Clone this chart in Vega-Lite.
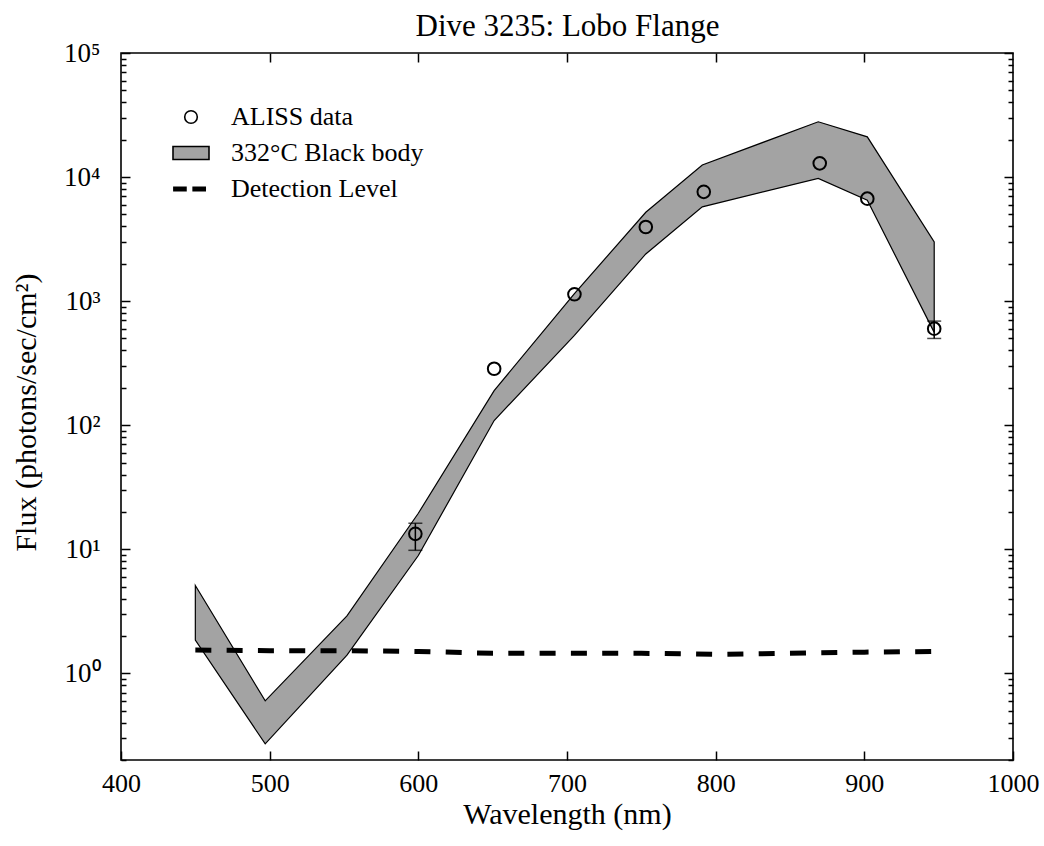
{
  "$schema": "https://vega.github.io/schema/vega-lite/v6.json",
  "width": 892,
  "height": 707,
  "autosize": {"type": "none"},
  "padding": {"left": 121, "top": 53, "right": 31, "bottom": 86},
  "background": "white",
  "config": {
    "view": {"stroke": "black", "strokeWidth": 1.6},
    "font": "Liberation Serif",
    "axis": {"domain": false, "grid": false, "tickColor": "black", "tickWidth": 1.5, "labelColor": "black", "titleColor": "black", "labelFont": "Liberation Serif", "titleFont": "Liberation Serif", "titleFontWeight": "normal", "labelOverlap": false, "labelBound": false, "labelFlush": false},
    "legend": {"labelFont": "Liberation Serif"}
  },
  "datasets": {
    "band": [
      {"wavelength": 450, "upper": 5.1, "lower": 1.85},
      {"wavelength": 497, "upper": 0.6, "lower": 0.27},
      {"wavelength": 552, "upper": 2.9, "lower": 1.4},
      {"wavelength": 600, "upper": 19.5, "lower": 8.9},
      {"wavelength": 651, "upper": 190, "lower": 109},
      {"wavelength": 705, "upper": 1150, "lower": 530},
      {"wavelength": 753, "upper": 5200, "lower": 2400},
      {"wavelength": 791, "upper": 12500, "lower": 5750},
      {"wavelength": 869, "upper": 27900, "lower": 9750},
      {"wavelength": 902, "upper": 21100, "lower": 6500},
      {"wavelength": 947, "upper": 3000, "lower": 560}
    ],
    "detect": [
      {"wavelength": 450, "level": 1.54},
      {"wavelength": 500, "level": 1.52},
      {"wavelength": 550, "level": 1.52},
      {"wavelength": 600, "level": 1.5},
      {"wavelength": 650, "level": 1.45},
      {"wavelength": 700, "level": 1.45},
      {"wavelength": 750, "level": 1.45},
      {"wavelength": 800, "level": 1.42},
      {"wavelength": 850, "level": 1.45},
      {"wavelength": 900, "level": 1.48},
      {"wavelength": 948, "level": 1.5}
    ],
    "aliss": [
      {"wavelength": 598, "flux": 13.3, "series": "ALISS data"},
      {"wavelength": 651, "flux": 285, "series": "ALISS data"},
      {"wavelength": 705, "flux": 1135, "series": "ALISS data"},
      {"wavelength": 753, "flux": 3960, "series": "ALISS data"},
      {"wavelength": 792, "flux": 7600, "series": "ALISS data"},
      {"wavelength": 870, "flux": 12900, "series": "ALISS data"},
      {"wavelength": 902, "flux": 6700, "series": "ALISS data"},
      {"wavelength": 947, "flux": 600, "series": "ALISS data"}
    ],
    "err": [
      {"wavelength": 598, "lo": 9.8, "hi": 16.2},
      {"wavelength": 947, "lo": 500, "hi": 690}
    ]
  },
  "resolve": {"axis": {"x": "independent", "y": "independent"}},
  "layer": [
    {
      "data": {"name": "band"},
      "mark": {"type": "area", "fill": "#a3a3a3", "stroke": "black", "strokeWidth": 1.2},
      "encoding": {
        "x": {"field": "wavelength", "type": "quantitative", "scale": {"domain": [400, 1000], "nice": false, "zero": false},
          "axis": {"orient": "bottom", "values": [400, 500, 600, 700, 800, 900, 1000], "format": "d", "tickSize": -9, "labelPadding": 19, "labelFontSize": 26, "labelFlush": false, "title": "Wavelength (nm)", "titleFontSize": 30, "titleY": 63, "titleBaseline": "alphabetic"}},
        "y": {"field": "upper", "type": "quantitative", "scale": {"type": "log", "domain": [0.2, 100000], "nice": false},
          "axis": {"orient": "left",
            "values": [0.2,0.3,0.4,0.5,0.6,0.7,0.8,0.9,1,2,3,4,5,6,7,8,9,10,20,30,40,50,60,70,80,90,100,200,300,400,500,600,700,800,900,1000,2000,3000,4000,5000,6000,7000,8000,9000,10000,20000,30000,40000,50000,60000,70000,80000,90000,100000],
            "labelExpr": "datum.value==1?'10⁰':datum.value==10?'10¹':datum.value==100?'10²':datum.value==1000?'10³':datum.value==10000?'10⁴':datum.value==100000?'10⁵':''",
            "tickSize": {"condition": {"test": "datum.value==1||datum.value==10||datum.value==100||datum.value==1000||datum.value==10000||datum.value==100000", "value": -9}, "value": -5},
            "labelPadding": 30, "labelFontSize": 27, "labelFlush": false,
            "title": "Flux (photons/sec/cm²)", "titleFontSize": 30, "titleX": -86, "titleY": 359, "titleAngle": 270, "titleBaseline": "alphabetic"}},
        "y2": {"field": "lower"}
      }
    },
    {
      "data": {"name": "detect"},
      "mark": {"type": "line", "color": "black", "strokeWidth": 5, "strokeDash": [16, 15.3]},
      "encoding": {
        "x": {"field": "wavelength", "type": "quantitative", "axis": {"orient": "top", "values": [500, 600, 700, 800, 900], "labels": false, "tickSize": -9, "title": "Dive 3235: Lobo Flange", "titleFontSize": 31, "titleY": -18, "titleBaseline": "alphabetic", "titleFont": "Liberation Serif", "titleColor": "black"}},
        "y": {"field": "level", "type": "quantitative",
          "axis": {"orient": "right", "labels": false, "title": null,
            "values": [0.2,0.3,0.4,0.5,0.6,0.7,0.8,0.9,1,2,3,4,5,6,7,8,9,10,20,30,40,50,60,70,80,90,100,200,300,400,500,600,700,800,900,1000,2000,3000,4000,5000,6000,7000,8000,9000,10000,20000,30000,40000,50000,60000,70000,80000,90000,100000],
            "tickSize": {"condition": {"test": "datum.value==1||datum.value==10||datum.value==100||datum.value==1000||datum.value==10000||datum.value==100000", "value": -9}, "value": -5}}}
      }
    },
    {
      "data": {"name": "err"},
      "mark": {"type": "errorbar", "ticks": {"size": 14, "thickness": 1.5, "color": "black"}, "rule": {"strokeWidth": 1.5, "color": "black"}},
      "encoding": {
        "x": {"field": "wavelength", "type": "quantitative", "axis": null},
        "y": {"field": "lo", "type": "quantitative", "axis": null},
        "y2": {"field": "hi"}
      }
    },
    {
      "data": {"name": "aliss"},
      "mark": {"type": "point", "size": 1296, "strokeWidth": 2, "opacity": 1, "fillOpacity": 1},
      "encoding": {
        "x": {"field": "wavelength", "type": "quantitative", "axis": null},
        "y": {"field": "flux", "type": "quantitative", "axis": null},
        "shape": {"field": "series", "type": "nominal",
          "scale": {"domain": ["ALISS data", "332°C Black body", "Detection Level"],
            "range": ["M-0.35,0A0.35,0.35,0,1,0,0.35,0A0.35,0.35,0,1,0,-0.35,0Z", "M-1,-0.36H1V0.36H-1Z", "M-0.95,-0.1H-0.28V0.1H-0.95Z M0.12,-0.1H0.79V0.1H0.12Z"]},
          "legend": {"title": null, "orient": "none", "legendX": 51, "legendY": 45, "padding": 0, "offset": 0, "symbolSize": 1296, "symbolStrokeWidth": 1.6, "labelFontSize": 26, "labelOffset": 21, "labelLimit": 0, "rowPadding": 4, "labelColor": "black", "labelFont": "Liberation Serif"}},
        "fill": {"field": "series", "type": "nominal",
          "scale": {"domain": ["ALISS data", "332°C Black body", "Detection Level"], "range": ["transparent", "#a3a3a3", "black"]},
          "legend": {"title": null, "orient": "none", "legendX": 51, "legendY": 45, "padding": 0, "offset": 0, "symbolSize": 1296, "symbolStrokeWidth": 1.6, "labelFontSize": 26, "labelOffset": 21, "labelLimit": 0, "rowPadding": 4, "labelColor": "black", "labelFont": "Liberation Serif"}},
        "stroke": {"field": "series", "type": "nominal",
          "scale": {"domain": ["ALISS data", "332°C Black body", "Detection Level"], "range": ["black", "black", "black"]},
          "legend": {"title": null, "orient": "none", "legendX": 51, "legendY": 45, "padding": 0, "offset": 0, "symbolSize": 1296, "symbolStrokeWidth": 1.6, "labelFontSize": 26, "labelOffset": 21, "labelLimit": 0, "rowPadding": 4, "labelColor": "black", "labelFont": "Liberation Serif"}}
      }
    }
  ]
}
